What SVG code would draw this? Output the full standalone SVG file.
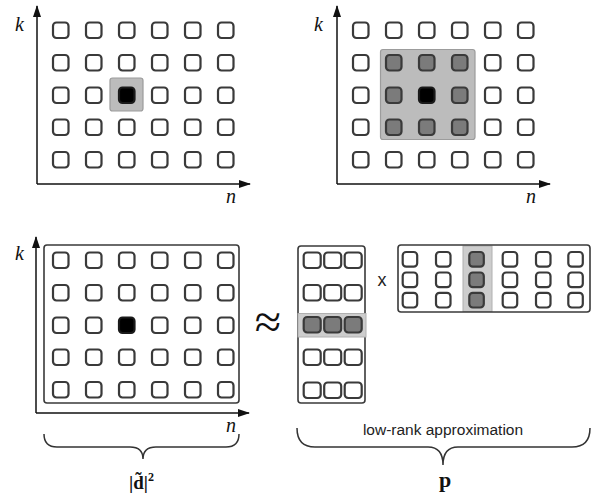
<svg xmlns="http://www.w3.org/2000/svg" width="597" height="500" viewBox="0 0 597 500">
<style>
.c{fill:#fff;stroke:#3a3a3a;stroke-width:2.2}
.g{fill:#7b7b7b;stroke:#3a3a3a;stroke-width:2.2}
.b{fill:#000;stroke:#1a1a1a;stroke-width:2.2}
.hl{fill:#bcbcbc;stroke:#9c9c9c;stroke-width:1.2}
.band{fill:#cdcdcd;stroke:#b0b0b0;stroke-width:1}
.frame{fill:none;stroke:#3a3a3a;stroke-width:1.6}
.ax{stroke:#111;stroke-width:1.5;fill:none}
.br{stroke:#333;stroke-width:1.5;fill:none}
.lbl{font-family:"Liberation Serif",serif;font-style:italic;font-size:20px;fill:#111}
.math{font-family:"Liberation Serif",serif;font-weight:bold;fill:#111}
.sans{font-family:"Liberation Sans",Arial,sans-serif;fill:#222}
</style>
<defs>
<marker id="ah" markerWidth="12" markerHeight="10" refX="11" refY="5" orient="auto" markerUnits="userSpaceOnUse">
<path d="M0,1 L12,5 L0,9 Z" fill="#111"/>
</marker>
</defs>
<rect width="597" height="500" fill="#fff"/>

<g id="panel-top-left">
<rect class="hl" x="110" y="78" width="33" height="33" rx="2.5"/>
<g>
<rect class="c" x="53" y="22.5" width="15.5" height="15.5" rx="3.5"/><rect class="c" x="86" y="22.5" width="15.5" height="15.5" rx="3.5"/><rect class="c" x="119" y="22.5" width="15.5" height="15.5" rx="3.5"/><rect class="c" x="152" y="22.5" width="15.5" height="15.5" rx="3.5"/><rect class="c" x="185" y="22.5" width="15.5" height="15.5" rx="3.5"/><rect class="c" x="218" y="22.5" width="15.5" height="15.5" rx="3.5"/>
<rect class="c" x="53" y="55" width="15.5" height="15.5" rx="3.5"/><rect class="c" x="86" y="55" width="15.5" height="15.5" rx="3.5"/><rect class="c" x="119" y="55" width="15.5" height="15.5" rx="3.5"/><rect class="c" x="152" y="55" width="15.5" height="15.5" rx="3.5"/><rect class="c" x="185" y="55" width="15.5" height="15.5" rx="3.5"/><rect class="c" x="218" y="55" width="15.5" height="15.5" rx="3.5"/>
<rect class="c" x="53" y="87.5" width="15.5" height="15.5" rx="3.5"/><rect class="c" x="86" y="87.5" width="15.5" height="15.5" rx="3.5"/><rect class="b" x="119" y="87.5" width="15.5" height="15.5" rx="3.5"/><rect class="c" x="152" y="87.5" width="15.5" height="15.5" rx="3.5"/><rect class="c" x="185" y="87.5" width="15.5" height="15.5" rx="3.5"/><rect class="c" x="218" y="87.5" width="15.5" height="15.5" rx="3.5"/>
<rect class="c" x="53" y="119.5" width="15.5" height="15.5" rx="3.5"/><rect class="c" x="86" y="119.5" width="15.5" height="15.5" rx="3.5"/><rect class="c" x="119" y="119.5" width="15.5" height="15.5" rx="3.5"/><rect class="c" x="152" y="119.5" width="15.5" height="15.5" rx="3.5"/><rect class="c" x="185" y="119.5" width="15.5" height="15.5" rx="3.5"/><rect class="c" x="218" y="119.5" width="15.5" height="15.5" rx="3.5"/>
<rect class="c" x="53" y="152" width="15.5" height="15.5" rx="3.5"/><rect class="c" x="86" y="152" width="15.5" height="15.5" rx="3.5"/><rect class="c" x="119" y="152" width="15.5" height="15.5" rx="3.5"/><rect class="c" x="152" y="152" width="15.5" height="15.5" rx="3.5"/><rect class="c" x="185" y="152" width="15.5" height="15.5" rx="3.5"/><rect class="c" x="218" y="152" width="15.5" height="15.5" rx="3.5"/>
</g>
<text class="lbl" x="15" y="31">k</text>
<text class="lbl" x="226" y="203">n</text>
</g>

<g id="panel-top-right">
<rect class="hl" x="380.5" y="49.5" width="94.5" height="90" rx="2.5"/>
<rect class="c" x="353" y="22.5" width="15.5" height="15.5" rx="3.5"/><rect class="c" x="386" y="22.5" width="15.5" height="15.5" rx="3.5"/><rect class="c" x="419" y="22.5" width="15.5" height="15.5" rx="3.5"/><rect class="c" x="452" y="22.5" width="15.5" height="15.5" rx="3.5"/><rect class="c" x="485" y="22.5" width="15.5" height="15.5" rx="3.5"/><rect class="c" x="518" y="22.5" width="15.5" height="15.5" rx="3.5"/>
<rect class="c" x="353" y="55" width="15.5" height="15.5" rx="3.5"/><rect class="g" x="386" y="55" width="15.5" height="15.5" rx="3.5"/><rect class="g" x="419" y="55" width="15.5" height="15.5" rx="3.5"/><rect class="g" x="452" y="55" width="15.5" height="15.5" rx="3.5"/><rect class="c" x="485" y="55" width="15.5" height="15.5" rx="3.5"/><rect class="c" x="518" y="55" width="15.5" height="15.5" rx="3.5"/>
<rect class="c" x="353" y="87.5" width="15.5" height="15.5" rx="3.5"/><rect class="g" x="386" y="87.5" width="15.5" height="15.5" rx="3.5"/><rect class="b" x="419" y="87.5" width="15.5" height="15.5" rx="3.5"/><rect class="g" x="452" y="87.5" width="15.5" height="15.5" rx="3.5"/><rect class="c" x="485" y="87.5" width="15.5" height="15.5" rx="3.5"/><rect class="c" x="518" y="87.5" width="15.5" height="15.5" rx="3.5"/>
<rect class="c" x="353" y="119.5" width="15.5" height="15.5" rx="3.5"/><rect class="g" x="386" y="119.5" width="15.5" height="15.5" rx="3.5"/><rect class="g" x="419" y="119.5" width="15.5" height="15.5" rx="3.5"/><rect class="g" x="452" y="119.5" width="15.5" height="15.5" rx="3.5"/><rect class="c" x="485" y="119.5" width="15.5" height="15.5" rx="3.5"/><rect class="c" x="518" y="119.5" width="15.5" height="15.5" rx="3.5"/>
<rect class="c" x="353" y="152" width="15.5" height="15.5" rx="3.5"/><rect class="c" x="386" y="152" width="15.5" height="15.5" rx="3.5"/><rect class="c" x="419" y="152" width="15.5" height="15.5" rx="3.5"/><rect class="c" x="452" y="152" width="15.5" height="15.5" rx="3.5"/><rect class="c" x="485" y="152" width="15.5" height="15.5" rx="3.5"/><rect class="c" x="518" y="152" width="15.5" height="15.5" rx="3.5"/>
<text class="lbl" x="314" y="31">k</text>
<text class="lbl" x="526" y="203">n</text>
</g>

<g id="panel-bottom-left">
<rect class="frame" x="44" y="245" width="195" height="158" rx="3"/>
<rect class="c" x="53" y="252.5" width="15.5" height="15.5" rx="3.5"/><rect class="c" x="86" y="252.5" width="15.5" height="15.5" rx="3.5"/><rect class="c" x="119" y="252.5" width="15.5" height="15.5" rx="3.5"/><rect class="c" x="152" y="252.5" width="15.5" height="15.5" rx="3.5"/><rect class="c" x="185" y="252.5" width="15.5" height="15.5" rx="3.5"/><rect class="c" x="218" y="252.5" width="15.5" height="15.5" rx="3.5"/>
<rect class="c" x="53" y="285" width="15.5" height="15.5" rx="3.5"/><rect class="c" x="86" y="285" width="15.5" height="15.5" rx="3.5"/><rect class="c" x="119" y="285" width="15.5" height="15.5" rx="3.5"/><rect class="c" x="152" y="285" width="15.5" height="15.5" rx="3.5"/><rect class="c" x="185" y="285" width="15.5" height="15.5" rx="3.5"/><rect class="c" x="218" y="285" width="15.5" height="15.5" rx="3.5"/>
<rect class="c" x="53" y="317.5" width="15.5" height="15.5" rx="3.5"/><rect class="c" x="86" y="317.5" width="15.5" height="15.5" rx="3.5"/><rect class="b" x="119" y="317.5" width="15.5" height="15.5" rx="3.5"/><rect class="c" x="152" y="317.5" width="15.5" height="15.5" rx="3.5"/><rect class="c" x="185" y="317.5" width="15.5" height="15.5" rx="3.5"/><rect class="c" x="218" y="317.5" width="15.5" height="15.5" rx="3.5"/>
<rect class="c" x="53" y="349.5" width="15.5" height="15.5" rx="3.5"/><rect class="c" x="86" y="349.5" width="15.5" height="15.5" rx="3.5"/><rect class="c" x="119" y="349.5" width="15.5" height="15.5" rx="3.5"/><rect class="c" x="152" y="349.5" width="15.5" height="15.5" rx="3.5"/><rect class="c" x="185" y="349.5" width="15.5" height="15.5" rx="3.5"/><rect class="c" x="218" y="349.5" width="15.5" height="15.5" rx="3.5"/>
<rect class="c" x="53" y="382" width="15.5" height="15.5" rx="3.5"/><rect class="c" x="86" y="382" width="15.5" height="15.5" rx="3.5"/><rect class="c" x="119" y="382" width="15.5" height="15.5" rx="3.5"/><rect class="c" x="152" y="382" width="15.5" height="15.5" rx="3.5"/><rect class="c" x="185" y="382" width="15.5" height="15.5" rx="3.5"/><rect class="c" x="218" y="382" width="15.5" height="15.5" rx="3.5"/>
<text class="lbl" x="15" y="260">k</text>
<text class="lbl" x="226" y="432">n</text>
<text class="math" x="129" y="489" font-size="19">|d̃|<tspan font-size="12" dy="-8">2</tspan></text>
</g>

<g id="approx-sign">
<text x="268" y="338" text-anchor="middle" font-family="Liberation Serif, serif" font-size="48" fill="#111">≈</text>
</g>

<g id="panel-bottom-right-left-matrix">
<rect class="frame" x="298" y="246" width="67" height="157" rx="3"/>
<rect class="band" x="298" y="313.5" width="68" height="23.5"/>
<rect class="c" x="303.7" y="252.5" width="17" height="15.5" rx="3.5"/><rect class="c" x="324.2" y="252.5" width="17" height="15.5" rx="3.5"/><rect class="c" x="344.7" y="252.5" width="17" height="15.5" rx="3.5"/>
<rect class="c" x="303.7" y="285" width="17" height="15.5" rx="3.5"/><rect class="c" x="324.2" y="285" width="17" height="15.5" rx="3.5"/><rect class="c" x="344.7" y="285" width="17" height="15.5" rx="3.5"/>
<rect class="g" x="303.7" y="317" width="17" height="15.5" rx="3.5"/><rect class="g" x="324.2" y="317" width="17" height="15.5" rx="3.5"/><rect class="g" x="344.7" y="317" width="17" height="15.5" rx="3.5"/>
<rect class="c" x="303.7" y="349.5" width="17" height="15.5" rx="3.5"/><rect class="c" x="324.2" y="349.5" width="17" height="15.5" rx="3.5"/><rect class="c" x="344.7" y="349.5" width="17" height="15.5" rx="3.5"/>
<rect class="c" x="303.7" y="382.5" width="17" height="15.5" rx="3.5"/><rect class="c" x="324.2" y="382.5" width="17" height="15.5" rx="3.5"/><rect class="c" x="344.7" y="382.5" width="17" height="15.5" rx="3.5"/>
</g>

<g id="times-sign">
<text class="sans" x="382" y="286" text-anchor="middle" font-size="18">x</text>
</g>

<g id="panel-bottom-right-right-matrix">
<rect class="band" x="463" y="246" width="29" height="65.5"/>
<rect class="frame" x="398" y="245" width="192" height="67" rx="3"/>
<rect class="c" x="402.7" y="252" width="14.5" height="14.7" rx="3.5"/><rect class="c" x="436" y="252" width="14.5" height="14.7" rx="3.5"/><rect class="g" x="469.3" y="252" width="14.5" height="14.7" rx="3.5"/><rect class="c" x="502.7" y="252" width="14.5" height="14.7" rx="3.5"/><rect class="c" x="536" y="252" width="14.5" height="14.7" rx="3.5"/><rect class="c" x="568.3" y="252" width="14.5" height="14.7" rx="3.5"/>
<rect class="c" x="402.7" y="272.5" width="14.5" height="14.7" rx="3.5"/><rect class="c" x="436" y="272.5" width="14.5" height="14.7" rx="3.5"/><rect class="g" x="469.3" y="272.5" width="14.5" height="14.7" rx="3.5"/><rect class="c" x="502.7" y="272.5" width="14.5" height="14.7" rx="3.5"/><rect class="c" x="536" y="272.5" width="14.5" height="14.7" rx="3.5"/><rect class="c" x="568.3" y="272.5" width="14.5" height="14.7" rx="3.5"/>
<rect class="c" x="402.7" y="292.8" width="14.5" height="14.7" rx="3.5"/><rect class="c" x="436" y="292.8" width="14.5" height="14.7" rx="3.5"/><rect class="g" x="469.3" y="292.8" width="14.5" height="14.7" rx="3.5"/><rect class="c" x="502.7" y="292.8" width="14.5" height="14.7" rx="3.5"/><rect class="c" x="536" y="292.8" width="14.5" height="14.7" rx="3.5"/><rect class="c" x="568.3" y="292.8" width="14.5" height="14.7" rx="3.5"/>
</g>

<g id="connectors">
<path class="ax" d="M37,184 L37,6" marker-end="url(#ah)"/>
<path class="ax" d="M37,184 L250,184" marker-end="url(#ah)"/>
<path class="ax" d="M337,184 L337,6" marker-end="url(#ah)"/>
<path class="ax" d="M337,184 L550,184" marker-end="url(#ah)"/>
<path class="ax" d="M36,413 L36,237" marker-end="url(#ah)"/>
<path class="ax" d="M36,413 L249,413" marker-end="url(#ah)"/>
<path class="br" d="M44,434 Q44,447 57,447 L130,447 Q143,447 143,459 Q143,447 156,447 L226,447 Q239,447 239,434"/>
<path class="br" d="M297,428 Q297,447 315,447 L428,447 Q443,447 443,465 Q443,447 458,447 L572,447 Q590,447 590,428"/>
</g>

<g id="labels">
<text class="sans" x="443" y="435" text-anchor="middle" font-size="15.5">low-rank approximation</text>
<text class="math" x="445" y="487" text-anchor="middle" font-size="22">p</text>
</g>
</svg>
